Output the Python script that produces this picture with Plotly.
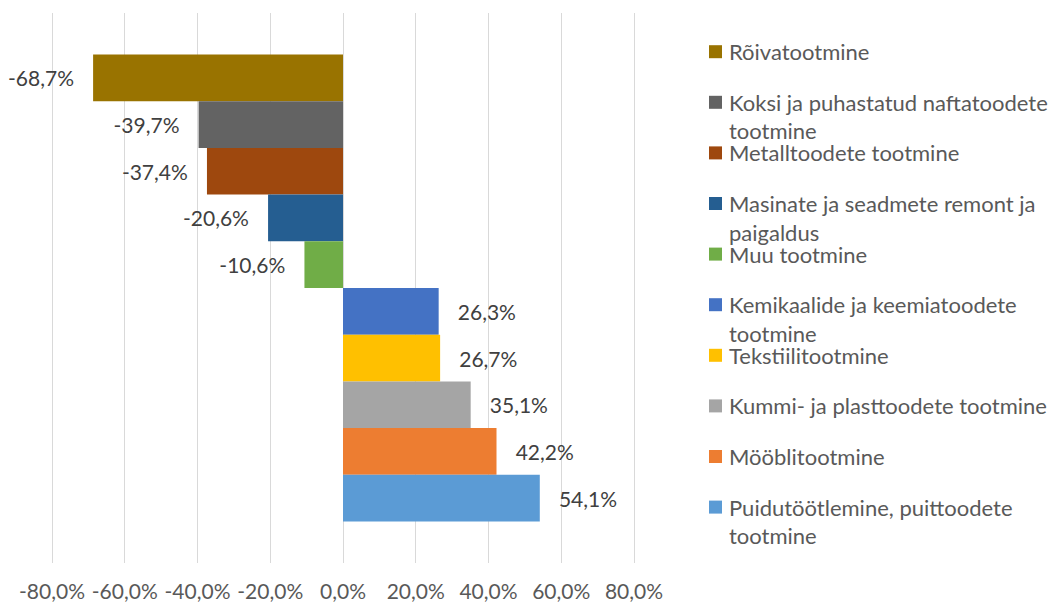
import plotly.graph_objects as go

categories = [
    "Rõivatootmine",
    "Koksi ja puhastatud naftatoodete tootmine",
    "Metalltoodete tootmine",
    "Masinate ja seadmete remont ja paigaldus",
    "Muu tootmine",
    "Kemikaalide ja keemiatoodete tootmine",
    "Tekstiilitootmine",
    "Kummi- ja plasttoodete tootmine",
    "Mööblitootmine",
    "Puidutöötlemine, puittoodete tootmine",
]
values = [-68.7, -39.7, -37.4, -20.6, -10.6, 26.3, 26.7, 35.1, 42.2, 54.1]
colors = ["#997300", "#636363", "#9E480E", "#255E91", "#70AD47",
          "#4472C4", "#FFC000", "#A5A5A5", "#ED7D31", "#5B9BD5"]
tick_vals = [-80, -60, -40, -20, 0, 20, 40, 60, 80]
tick_labels = ["-80,0%", "-60,0%", "-40,0%", "-20,0%", "0,0%",
               "20,0%", "40,0%", "60,0%", "80,0%"]
# legend line wrapping as in the original
legend_lines = [
    ["Rõivatootmine"],
    ["Koksi ja puhastatud naftatoodete", "tootmine"],
    ["Metalltoodete tootmine"],
    ["Masinate ja seadmete remont ja", "paigaldus"],
    ["Muu tootmine"],
    ["Kemikaalide ja keemiatoodete", "tootmine"],
    ["Tekstiilitootmine"],
    ["Kummi- ja plasttoodete tootmine"],
    ["Mööblitootmine"],
    ["Puidutöötlemine, puittoodete", "tootmine"],
]

FONT = "Lato, Calibri, sans-serif"
W, H = 1056, 604
ML, MR, MT, MB = 50, 420, 13, 41
PW, PH = W - ML - MR, H - MT - MB
PAD = "\u00a0\u00a0\u00a0"


def fmt(v):
    return f"{v:.1f}%".replace(".", ",")


fig = go.Figure()
for name, v, c in zip(categories, values, colors):
    label = fmt(v) + PAD if v < 0 else PAD + fmt(v)
    fig.add_trace(go.Bar(
        y=["g"], x=[v], name=name, orientation="h",
        marker=dict(color=c, line=dict(width=0)),
        text=[label], textposition="outside", cliponaxis=False,
        constraintext="none",
        textfont=dict(family=FONT, size=21, color="#404040"),
        showlegend=False,
    ))


def px_x(p):
    return (p - ML) / PW


def px_y(p):
    return (MT + PH - p) / PH


annotations = []
shapes = []
for i, (lines, c) in enumerate(zip(legend_lines, colors)):
    yc = 51.7 + 50.6 * i
    shapes.append(dict(type="rect", xref="paper", yref="paper",
                       x0=px_x(709), x1=px_x(722),
                       y0=px_y(yc + 6.5), y1=px_y(yc - 6.5),
                       fillcolor=c, line=dict(width=0)))
    for k, ln in enumerate(lines):
        annotations.append(dict(
            xref="paper", yref="paper", x=px_x(727), y=px_y(yc + 28.5 * k),
            xanchor="left", yanchor="middle", text=ln, showarrow=False,
            font=dict(family=FONT, size=22, color="#595959")))

fig.update_layout(
    width=W, height=H,
    margin=dict(l=ML, r=MR, t=MT, b=MB, autoexpand=False),
    paper_bgcolor="white", plot_bgcolor="white",
    barmode="group", bargap=0.151, bargroupgap=0,
    showlegend=False,
    annotations=annotations, shapes=shapes,
    xaxis=dict(range=[-80.55, 80.55], tickvals=tick_vals, ticktext=tick_labels,
               showgrid=True, gridcolor="#d9d9d9", gridwidth=1.3,
               zeroline=True, zerolinecolor="#d9d9d9", zerolinewidth=1.3,
               showline=False, ticks="", ticklabelstandoff=14,
               automargin=False,
               tickfont=dict(family=FONT, size=21, color="#595959")),
    yaxis=dict(type="category", range=[0.5, -0.5], showticklabels=False,
               showgrid=False, zeroline=False, showline=False, ticks="",
               automargin=False),
)

fig.write_html("out.html",
               config={"displayModeBar": False},
               post_script="document.body.style.margin='0';")
